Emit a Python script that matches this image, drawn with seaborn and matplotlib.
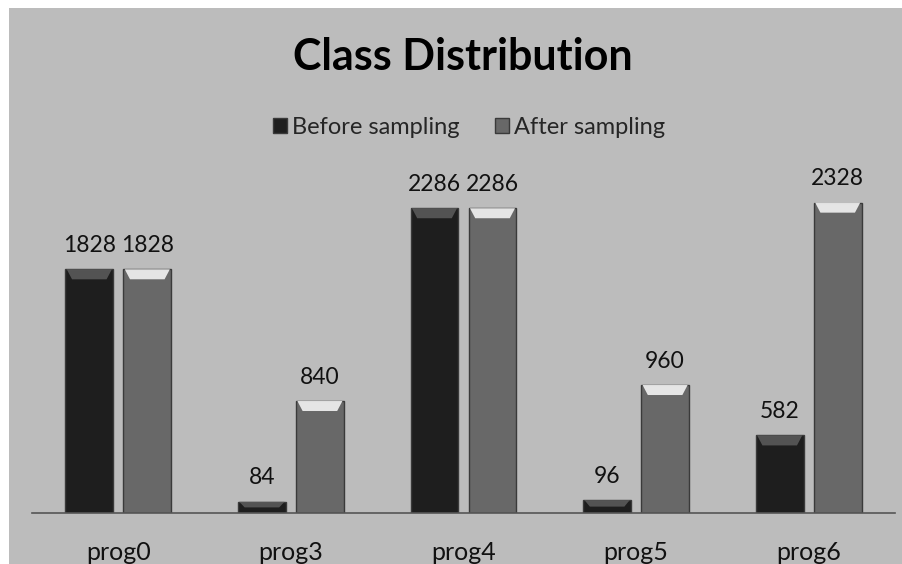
import matplotlib
matplotlib.use("Agg")
import matplotlib.pyplot as plt
import seaborn as sns
import pandas as pd
from matplotlib.patches import Rectangle, Polygon

categories = ["prog0", "prog3", "prog4", "prog5", "prog6"]
before = [1828, 84, 2286, 96, 582]
after = [1828, 840, 2286, 960, 2328]
series = ["Before sampling", "After sampling"]

df = pd.DataFrame({
    "category": categories * 2,
    "value": before + after,
    "series": [series[0]] * 5 + [series[1]] * 5,
})

sns.set_theme(style="white")
plt.rcParams["font.family"] = ["Lato", "DejaVu Sans"]

W, H = 903, 564
fig = plt.figure(figsize=(W / 100, H / 100), dpi=100, facecolor="white")
bg = "#bcbcbc"
fig.patches.append(Rectangle((9 / W, 0), 1 - 9 / W, 1 - 8 / H, transform=fig.transFigure,
                             facecolor=bg, edgecolor="none", zorder=-10))

ax = fig.add_axes([32 / W, 51 / H, 863 / W, 505 / H])
ax.patch.set_alpha(0)

colors = {"Before sampling": "#1e1e1e", "After sampling": "#686868"}
sns.barplot(data=df, x="category", y="value", hue="series", palette=colors,
            hue_order=series, order=categories, width=0.672, gap=0.173,
            edgecolor="#3a3a3a", linewidth=1.0, ax=ax, legend=False, saturation=1)

ax.set_xlim(-0.5, 4.5)
ax.set_ylim(0, 3788)
for s in ["top", "right", "left"]:
    ax.spines[s].set_visible(False)
ax.spines["bottom"].set_color("#555555")
ax.spines["bottom"].set_linewidth(1.2)
ax.set_yticks([])
ax.set_xlabel("")
ax.set_ylabel("")
ax.tick_params(axis="x", length=0, pad=20, labelsize=18, colors="#111111")

# bevel highlight on top of each bar and labels
cap = 75
for p, hue in zip(ax.patches, [0] * 5 + [1] * 5):
    x0, w, h = p.get_x(), p.get_width(), p.get_height()
    c = min(cap, h * 0.5)
    inset = w * 0.14
    hl = "#5a5a5a" if hue == 0 else "#f4f4f4"
    ax.add_patch(Polygon([(x0 + w * 0.03, h), (x0 + w * 0.97, h), (x0 + w - inset, h - c), (x0 + inset, h - c)],
                         closed=True, facecolor=hl, edgecolor="none", alpha=0.9, zorder=3))
    ax.text(x0 + w / 2, h + 100, f"{int(h)}", ha="center", va="bottom", fontsize=16.5, color="#111111")

fig.text(463 / W, 1 - 57 / H, "Class Distribution", ha="center", va="center",
         fontsize=31, fontweight="bold", color="black")

handles = [Rectangle((0, 0), 1, 1, facecolor=colors[s], edgecolor="#3a3a3a") for s in series]
fig.legend(handles, series, loc="center", bbox_to_anchor=(469 / W, 1 - 127 / H), ncol=2,
           frameon=False, fontsize=17, handlelength=0.6, handleheight=0.6,
           handletextpad=0.2, columnspacing=1.5)

fig.savefig("out.png", dpi=100, facecolor="white")
